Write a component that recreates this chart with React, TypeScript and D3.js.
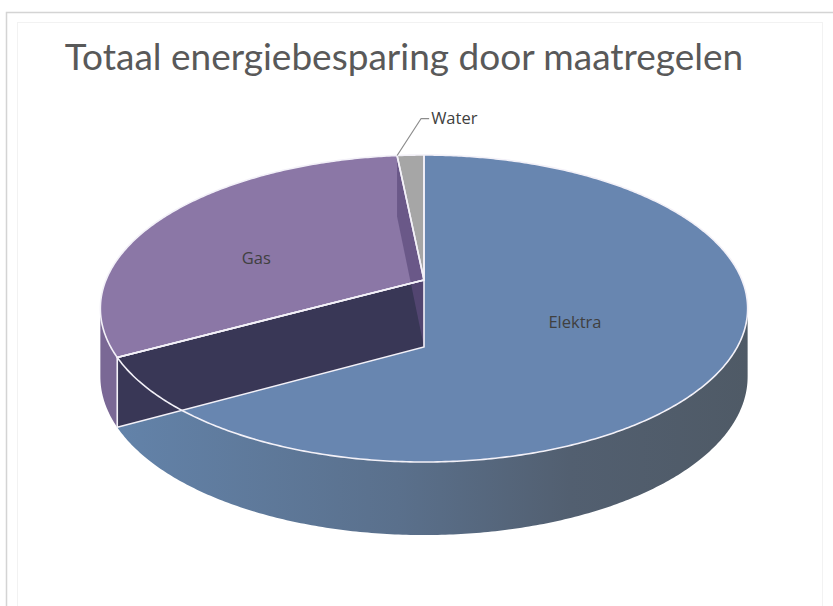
import { useEffect, useRef } from "react";
import * as d3 from "d3";

// slice data (Excel 3D pie, first slice starts at 12 o'clock)
const categories = ["Elektra", "Gas", "Water"];
const values = [67.1, 31.3, 1.6];
const title = "Totaal energiebesparing door maatregelen";

const topColors: Record<string, string> = { Elektra: "#6886b0", Gas: "#8b77a6", Water: "#a6a6a6" };
const sideColors: Record<string, string> = { Gas: "#7a6895", Water: "#8c8c8c" };

const W = 833;
const H = 606;

// perspective projection of the pie disc
const K = -0.1857; // perspective strength
const RX = 318;
const RY = 148.2;
const CX = 424;
const CY = 280;
const DEPTH = 67;
const DM = 0.09;

function project(theta: number, r: number, level: number): [number, number] {
  const X = r * Math.sin(theta);
  const Z = -r * Math.cos(theta);
  const w = 1 / (1 + K * Z);
  return [CX + RX * X * w, CY + RY * Z * w + level * DEPTH * (1 + DM * Z)];
}

function rim(a0: number, a1: number, level: number) {
  const n = Math.max(2, Math.ceil(Math.abs(a1 - a0) / 0.01));
  return d3.range(n + 1).map((i) => project(a0 + ((a1 - a0) * i) / n, 1, level));
}

const line = d3.line<[number, number]>();

function topWedge(a0: number, a1: number) {
  return line([project(0, 0, 0), ...rim(a0, a1, 0)]) + "Z";
}
function sideFace(a0: number, a1: number) {
  return line([...rim(a0, a1, 0), ...rim(a1, a0, 1)]) + "Z";
}
function radialFace(a: number) {
  return line([project(0, 0, 0), project(a, 1, 0), project(a, 1, 1), project(0, 0, 1)]) + "Z";
}

export default function App() {
  const ref = useRef<SVGSVGElement | null>(null);

  useEffect(() => {
    const svg = d3.select(ref.current);
    svg.selectAll("*").remove();

    const data = categories.map((c, i) => ({ name: c, value: values[i] }));
    const arcs = d3
      .pie<{ name: string; value: number }>()
      .sort(null)
      .value((d) => d.value)
      .startAngle(0)
      .endAngle(Math.PI * 2)(data);
    const byName = (n: string) => arcs.find((a) => a.data.name === n)!;

    // chart frame
    svg.append("rect").attr("width", W).attr("height", H).attr("fill", "#ffffff");
    svg
      .append("rect")
      .attr("x", 6.5)
      .attr("y", 12.5)
      .attr("width", W + 20)
      .attr("height", H + 20)
      .attr("fill", "#ffffff")
      .attr("stroke", "#d4d4d4")
      .attr("stroke-width", 1.5);
    svg
      .append("rect")
      .attr("x", 17.5)
      .attr("y", 22.5)
      .attr("width", 805)
      .attr("height", H + 20)
      .attr("fill", "none")
      .attr("stroke", "#f2f2f2")
      .attr("stroke-width", 1);

    svg
      .append("text")
      .attr("x", 404)
      .attr("y", 70)
      .attr("text-anchor", "middle")
      .attr("font-family", "Lato, 'Open Sans', sans-serif")
      .attr("font-size", 37)
      .attr("fill", "#595959")
      .text(title);

    const defs = svg.append("defs");
    const grad = defs
      .append("linearGradient")
      .attr("id", "elektraSide")
      .attr("gradientUnits", "userSpaceOnUse")
      .attr("x1", 110)
      .attr("x2", 750)
      .attr("y1", 0)
      .attr("y2", 0);
    [
      [0, "#6383aa"],
      [0.45, "#5a708c"],
      [0.72, "#525f70"],
      [1, "#4f5a66"],
    ].forEach(([o, c]) => grad.append("stop").attr("offset", o as number).attr("stop-color", c as string));

    // visible front sides: between the left and right silhouettes
    const silR = Math.acos(K);
    const silL = Math.PI * 2 - silR;
    const g = svg.append("g");

    arcs.forEach((a) => {
      const s = Math.max(a.startAngle, silR);
      const e = Math.min(a.endAngle, silL);
      if (e > s) {
        g.append("path")
          .attr("d", sideFace(s, e))
          .attr("fill", a.data.name === "Elektra" ? "url(#elektraSide)" : sideColors[a.data.name]);
      }
    });

    const elektra = byName("Elektra");
    const gas = byName("Gas");
    const water = byName("Water");

    // tops
    [elektra, water, gas].forEach((a) => {
      g.append("path").attr("d", topWedge(a.startAngle, a.endAngle)).attr("fill", topColors[a.data.name]);
    });

    // Gas slice radial faces, drawn over its neighbours as in the reference
    g.append("path").attr("d", radialFace(gas.startAngle)).attr("fill", "#393756");
    g.append("path").attr("d", radialFace(gas.endAngle)).attr("fill", "#5c4b7c").attr("opacity", 0.7);

    // white outlines
    const stroke = "#f3f1f8";
    g.append("path")
      .attr("d", radialFace(gas.startAngle))
      .attr("fill", "none")
      .attr("stroke", stroke)
      .attr("stroke-width", 1.6);
    [elektra, gas, water].forEach((a) => {
      g.append("path")
        .attr("d", topWedge(a.startAngle, a.endAngle))
        .attr("fill", "none")
        .attr("stroke", stroke)
        .attr("stroke-width", 1.6)
        .attr("stroke-linejoin", "round");
    });

    // labels
    const labelFont = "'Open Sans', Lato, sans-serif";
    const labelPos: Record<string, [number, number]> = {
      Elektra: [0, 0.525],
      Gas: [(-12 * Math.PI) / 180, 0.564],
    };
    [elektra, gas].forEach((a) => {
      const [shift, r] = labelPos[a.data.name];
      const [x, y] = project((a.startAngle + a.endAngle) / 2 + shift, r, 0);
      g.append("text")
        .attr("x", x)
        .attr("y", y)
        .attr("dy", "0.35em")
        .attr("text-anchor", "middle")
        .attr("font-family", labelFont)
        .attr("font-size", 16.5)
        .attr("fill", "#404040")
        .text(a.data.name);
    });

    const [wx, wy] = project((water.startAngle + water.endAngle) / 2 - 0.05, 1, 0);
    g.append("path")
      .attr("d", line([
        [wx, wy],
        [wx + 24, wy - 37],
        [wx + 32, wy - 37],
      ]))
      .attr("fill", "none")
      .attr("stroke", "#8c8c8c")
      .attr("stroke-width", 1.2);
    g.append("text")
      .attr("x", wx + 34)
      .attr("y", wy - 37)
      .attr("dy", "0.35em")
      .attr("font-family", labelFont)
      .attr("font-size", 16.5)
      .attr("fill", "#404040")
      .text(water.data.name);
  }, []);

  return (
    <svg
      ref={ref}
      width={W}
      height={H}
      style={{ position: "absolute", left: 0, top: 0, display: "block" }}
    />
  );
}
